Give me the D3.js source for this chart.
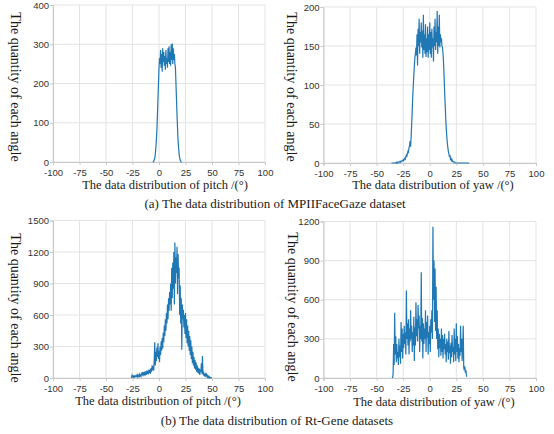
<!DOCTYPE html>
<html>
<head>
<meta charset="utf-8">
<script src="https://cdn.jsdelivr.net/npm/d3@7/dist/d3.min.js"></script>
<style>
  body { margin: 0; background: #fff; }
  svg { display: block; }
  .tick text { font-family: "Liberation Sans", Arial, sans-serif; font-size: 9.5px; fill: #333; }
  .title { font-family: "Liberation Serif", "Times New Roman", serif; font-size: 12.5px; fill: #1a1a1a; }
  .ytitle { font-size: 14px; }
  .caption { font-size: 13px; }
</style>
</head>
<body>
<svg class="chart" width="554" height="434"></svg>
<script>
// angle ticks shared by all four panels
var angleTicks = [-100, -75, -50, -25, 0, 25, 50, 75, 100];

// bins are 0.5 degree wide, first bin angle given separately
var binStep = 0.5;

// (a) MPIIFaceGaze pitch, starts at -6
var mpiiPitchStart = -6;
var mpiiPitchCounts = [0, 0, 2, 5, 10, 20, 35, 55, 80, 120, 160, 200, 240, 265, 250, 285, 240, 275, 230, 290,
  255, 280, 245, 270, 235, 285, 250, 265, 240, 290, 255, 295, 250, 280, 245, 300, 260, 302, 250, 290,
  260, 275, 250, 240, 200, 160, 120, 85, 55, 35, 20, 10, 5, 2, 0, 0];
var mpiiPitchTicks = [0, 100, 200, 300, 400];

// (a) MPIIFaceGaze yaw, starts at -36
var mpiiYawStart = -36;
var mpiiYawCounts = [0, 0, 0, 0, 0, 0, 0, 0, 0, 1, 0, 1, 0, 1, 1, 1, 2, 1, 2, 2, 3,
  3, 4, 3, 5, 6, 5, 8, 10, 9, 13, 15, 14, 20, 22, 28, 21,
  35, 50, 68, 85, 100, 112, 125, 135, 140, 148, 138, 165, 125, 172, 150, 185, 140, 168, 155, 180,
  148, 170, 135, 190, 145, 165, 140, 178, 136, 160, 142, 175, 135, 165, 145, 180, 140, 168, 135, 172,
  148, 160, 130, 175, 150, 185, 145, 168, 155, 195, 140, 175, 150, 190, 148, 165, 155, 160, 150, 148,
  140, 128, 110, 92, 75, 58, 45, 35, 26, 20, 15, 12, 8, 10, 5, 6, 3, 4, 2, 2, 1, 1, 1, 0,
  0, 0, 0, 0, 0, 0, 0, 0, 0, 0, 0, 0, 0, 0, 0, 0, 0, 0, 0, 0, 0, 0, 0, 0, 0, 0];
var mpiiYawTicks = [0, 50, 100, 150, 200];

// (b) Rt-Gene pitch, starts at -26
var rtPitchStart = -26;
var rtPitchCounts = [0, 25, 12, 20, 8, 18, 10, 22, 12, 15, 25, 10, 30, 18, 12, 35, 20, 28, 15, 40,
  25, 55, 30, 45, 25, 60, 35, 50, 30, 70, 40, 55, 35, 80, 50, 65, 40, 95, 60, 120,
  75, 110, 70, 180, 340, 120, 250, 160, 290, 200, 330, 180, 260, 150, 300, 220, 350, 260, 380, 280,
  430, 340, 500, 400, 560, 450, 620, 520, 700, 560, 760, 640, 820, 700, 900, 640, 1050, 760, 1100, 850,
  1200, 700, 1290, 900, 1150, 1000, 1250, 800, 1180, 950, 1050, 600, 880, 520, 760, 270, 700, 560, 650, 480,
  600, 420, 620, 380, 560, 330, 500, 300, 450, 260, 400, 220, 360, 180, 300, 140, 250, 120, 200, 90,
  170, 80, 150, 60, 120, 50, 100, 40, 90, 30, 80, 60, 140, 40, 210, 30, 60, 20, 40, 10,
  50, 15, 30, 8, 20, 5, 15, 3, 8, 2, 4, 1, 0];
var rtPitchTicks = [0, 300, 600, 900, 1200, 1500];

// (b) Rt-Gene yaw, starts at -35
var rtYawStart = -35;
var rtYawCounts = [0, 30, 260, 100, 500, 180, 320, 120, 260, 150, 200, 100, 300, 160, 250, 110, 430, 200, 380, 150,
  340, 230, 400, 260, 350, 180, 670, 300, 420, 250, 450, 180, 380, 280, 520, 300, 400, 200, 350, 250,
  470, 130, 390, 250, 580, 320, 450, 280, 560, 380, 480, 200, 400, 300, 810, 280, 460, 150, 420, 260,
  380, 300, 520, 200, 430, 310, 480, 180, 350, 260, 400, 200, 450, 350, 520, 300, 1160, 600, 900, 430,
  840, 360, 700, 300, 520, 220, 380, 160, 340, 230, 300, 170, 380, 200, 330, 150, 300, 220, 340, 180,
  260, 120, 300, 200, 280, 140, 360, 190, 250, 110, 270, 160, 330, 200, 240, 120, 380, 180, 300, 130,
  420, 200, 320, 150, 260, 120, 230, 170, 400, 200, 300, 130, 250, 400, 80, 60, 90, 40, 60, 20, 10];
var rtYawTicks = [0, 300, 600, 900, 1200];

var xTitles = ['The data distribution of pitch /(\u00b0)', 'The data distribution of yaw /(\u00b0)'];
var yTitle = 'The quantity of each angle';
var captions = ['(a) The data distribution of MPIIFaceGaze dataset', '(b) The data distribution of Rt-Gene datasets'];

var chart = d3.select('.chart');

var panels = [
  {start: mpiiPitchStart, counts: mpiiPitchCounts, ticks: mpiiPitchTicks, xt: xTitles[0],
   left: 53, right: 265, top: 5, bottom: 162, xtx: 165, xty: 189, ytx: 16, yty: 87},
  {start: mpiiYawStart, counts: mpiiYawCounts, ticks: mpiiYawTicks, xt: xTitles[1],
   left: 323.5, right: 536, top: 7, bottom: 163, xtx: 433, xty: 189, ytx: 292, yty: 87},
  {start: rtPitchStart, counts: rtPitchCounts, ticks: rtPitchTicks, xt: xTitles[0],
   left: 53, right: 265, top: 220.5, bottom: 378, xtx: 158, xty: 405, ytx: 16, yty: 308},
  {start: rtYawStart, counts: rtYawCounts, ticks: rtYawTicks, xt: xTitles[1],
   left: 323.5, right: 536, top: 221.5, bottom: 378, xtx: 434, xty: 406, ytx: 293, yty: 307}
];

var plain = d => String(d);

panels.forEach(p => {
  var x = d3.scaleLinear().domain([-100, 100]).range([p.left, p.right]);
  var y = d3.scaleLinear().domain([0, d3.max(p.ticks)]).range([p.bottom, p.top]);
  var g = chart.append('g');

  // grid
  g.append('g').selectAll('line').data(angleTicks).enter().append('line')
    .attr('x1', d => x(d)).attr('x2', d => x(d))
    .attr('y1', p.top).attr('y2', p.bottom)
    .attr('stroke', '#e3e3e3');
  g.append('g').selectAll('line').data(p.ticks).enter().append('line')
    .attr('x1', p.left).attr('x2', p.right)
    .attr('y1', d => y(d)).attr('y2', d => y(d))
    .attr('stroke', '#e3e3e3');

  // axes
  var xAxis = g.append('g').attr('transform', 'translate(0,' + p.bottom + ')')
    .call(d3.axisBottom(x).tickValues(angleTicks).tickFormat(plain).tickSize(3).tickPadding(4));
  var yAxis = g.append('g').attr('transform', 'translate(' + p.left + ',0)')
    .call(d3.axisLeft(y).tickValues(p.ticks).tickFormat(plain).tickSize(3).tickPadding(1));
  [xAxis, yAxis].forEach(a => {
    a.select('.domain').attr('stroke', '#c8c8c8');
    a.selectAll('.tick line').attr('stroke', '#c8c8c8');
  });

  // curve
  var line = d3.line()
    .x((d, i) => x(p.start + i * binStep))
    .y(d => y(d));
  g.append('path').datum(p.counts)
    .attr('d', line)
    .attr('fill', 'none')
    .attr('stroke', '#1f77b4')
    .attr('stroke-width', 1.2);

  // titles
  g.append('text').attr('class', 'title')
    .attr('x', p.xtx).attr('y', p.xty)
    .attr('text-anchor', 'middle')
    .text(p.xt);
  g.append('text').attr('class', 'title ytitle')
    .attr('transform', 'translate(' + p.ytx + ',' + p.yty + ') rotate(90)')
    .attr('text-anchor', 'middle')
    .attr('dy', '0.35em')
    .text(yTitle);
});

chart.append('text').attr('class', 'title caption')
  .attr('x', 275).attr('y', 208).attr('text-anchor', 'middle')
  .text(captions[0]);
chart.append('text').attr('class', 'title caption')
  .attr('x', 277).attr('y', 425).attr('text-anchor', 'middle')
  .text(captions[1]);
</script>
</body>
</html>
